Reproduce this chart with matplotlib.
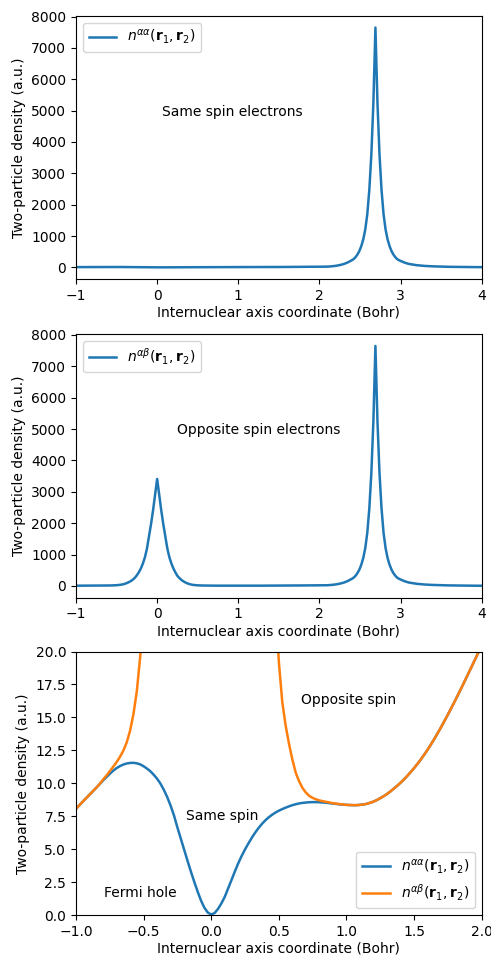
import matplotlib
matplotlib.use("Agg")
import matplotlib.pyplot as plt

# Internuclear axis grid (Bohr)
x_bohr = [-1.0, -0.975, -0.95, -0.925, -0.9, -0.875, -0.85, -0.825, -0.8, -0.775,
          -0.75, -0.725, -0.7, -0.675, -0.65, -0.625, -0.6, -0.575, -0.55, -0.525,
          -0.5, -0.475, -0.45, -0.425, -0.4, -0.375, -0.35, -0.325, -0.3, -0.275,
          -0.25, -0.225, -0.2, -0.175, -0.15, -0.125, -0.1, -0.075, -0.05, -0.025,
          0.0, 0.025, 0.05, 0.075, 0.1, 0.125, 0.15, 0.175, 0.2, 0.225,
          0.25, 0.275, 0.3, 0.325, 0.35, 0.375, 0.4, 0.425, 0.45, 0.475,
          0.5, 0.525, 0.55, 0.575, 0.6, 0.625, 0.65, 0.675, 0.7, 0.725,
          0.75, 0.775, 0.8, 0.825, 0.85, 0.875, 0.9, 0.925, 0.95, 0.975,
          1.0, 1.025, 1.05, 1.075, 1.1, 1.125, 1.15, 1.175, 1.2, 1.225,
          1.25, 1.275, 1.3, 1.325, 1.35, 1.375, 1.4, 1.425, 1.45, 1.475,
          1.5, 1.525, 1.55, 1.575, 1.6, 1.625, 1.65, 1.675, 1.7, 1.725,
          1.75, 1.775, 1.8, 1.825, 1.85, 1.875, 1.9, 1.925, 1.95, 1.975,
          2.0, 2.025, 2.05, 2.075, 2.1,
          2.15, 2.2, 2.25, 2.3, 2.35,
          2.415, 2.44, 2.465, 2.49, 2.515, 2.54, 2.565, 2.59, 2.615, 2.64, 2.665,
          2.69,
          2.715, 2.74, 2.765, 2.79, 2.815, 2.84, 2.865, 2.89, 2.915, 2.94, 2.965,
          3.0, 3.05, 3.1, 3.2, 3.3, 3.4, 3.5, 3.6, 3.7, 3.8, 3.9, 4.0]

# Same-spin pair density n^{aa}
n_same = [8.07, 8.35, 8.62, 8.88, 9.13, 9.4, 9.67, 9.95, 10.22, 10.48,
          10.73, 10.96, 11.16, 11.31, 11.43, 11.51, 11.55, 11.56, 11.52, 11.44,
          11.3, 11.12, 10.92, 10.65, 10.35, 9.97, 9.5, 8.95, 8.3, 7.55,
          6.65, 5.8, 4.95, 4.12, 3.3, 2.52, 1.78, 1.1, 0.56, 0.2,
          0.06, 0.17, 0.48, 0.9, 1.4, 2.03, 2.68, 3.33, 3.95, 4.5,
          5.0, 5.45, 5.88, 6.27, 6.62, 6.93, 7.2, 7.43, 7.62, 7.79,
          7.93, 8.05, 8.16, 8.26, 8.35, 8.42, 8.48, 8.52, 8.55, 8.57,
          8.58, 8.58, 8.57, 8.55, 8.53, 8.5, 8.47, 8.44, 8.41, 8.39,
          8.37, 8.36, 8.35, 8.35, 8.37, 8.4, 8.45, 8.53, 8.62, 8.74,
          8.88, 9.03, 9.2, 9.39, 9.6, 9.82, 10.05, 10.3, 10.57, 10.86,
          11.16, 11.48, 11.82, 12.18, 12.56, 12.96, 13.38, 13.82, 14.27, 14.74,
          15.22, 15.71, 16.21, 16.72, 17.24, 17.77, 18.3, 18.84, 19.38, 19.92,
          20.46, 21.0, 21.6, 22.3, 23.1,
          33, 48, 72, 106, 158,
          250, 310, 395, 510, 670, 890, 1210, 1700, 2480, 3610, 5260,
          7650,
          5260, 3610, 2480, 1700, 1210, 890, 670, 510, 395, 310, 250,
          205, 150, 110, 68, 45, 32, 23, 17, 13, 10, 8, 6.5]

# Opposite-spin pair density n^{ab}
n_opp = [8.07, 8.35, 8.62, 8.88, 9.13, 9.4, 9.67, 9.96, 10.29, 10.59,
         10.92, 11.26, 11.61, 12.01, 12.48, 13.11, 14.0, 15.26, 17.02, 19.64,
         23.5, 29, 38, 50, 66, 90, 120, 155, 200, 260,
         340, 440, 560, 720, 920, 1200, 1580, 1980, 2420, 2920,
         3410, 2920, 2420, 1980, 1580, 1200, 920, 720, 560, 430,
         320, 250, 190, 145, 108, 80, 58, 42, 31, 24,
         19.2, 16.2, 14.4, 13.0, 11.8, 10.8, 10.15, 9.65, 9.3, 9.05,
         8.9, 8.79, 8.71, 8.65, 8.6, 8.55, 8.5, 8.46, 8.43, 8.4,
         8.37, 8.36, 8.35, 8.35, 8.37, 8.4, 8.45, 8.53, 8.62, 8.74,
         8.88, 9.03, 9.2, 9.39, 9.6, 9.82, 10.05, 10.3, 10.57, 10.86,
         11.16, 11.48, 11.82, 12.18, 12.56, 12.96, 13.38, 13.82, 14.27, 14.74,
         15.22, 15.71, 16.21, 16.72, 17.24, 17.77, 18.3, 18.84, 19.38, 19.92,
         20.46, 21.0, 21.6, 22.3, 23.1,
         33, 48, 72, 106, 158,
         250, 310, 395, 510, 670, 890, 1210, 1700, 2480, 3610, 5260,
         7650,
         5260, 3610, 2480, 1700, 1210, 890, 670, 510, 395, 310, 250,
         205, 150, 110, 68, 45, 32, 23, 17, 13, 10, 8, 6.5]

assert len(x_bohr) == len(n_same) == len(n_opp), (len(x_bohr), len(n_same), len(n_opp))

lab_same = r'$n^{\alpha\alpha}(\mathbf{r}_1,\mathbf{r}_2)$'
lab_opp = r'$n^{\alpha\beta}(\mathbf{r}_1,\mathbf{r}_2)$'
xlabel = 'Internuclear axis coordinate (Bohr)'
ylabel = 'Two-particle density (a.u.)'

fig = plt.figure(figsize=(4.91, 9.55), dpi=100)
L, W, H = 0.1548, 0.8263, 0.2762
ax1 = fig.add_axes([L, 0.7075, W, H])
ax2 = fig.add_axes([L, 0.3741, W, H])
ax3 = fig.add_axes([L, 0.0416, W, H])

LW = 1.8
ax1.plot(x_bohr, n_same, color='C0', lw=LW, label=lab_same)
ax1.set_xlim(-1, 4)
ax1.legend(loc='upper left')
ax1.text(0.06, 4830, 'Same spin electrons')

ax2.plot(x_bohr, n_opp, color='C0', lw=LW, label=lab_opp)
ax2.set_xlim(-1, 4)
ax2.legend(loc='upper left')
ax2.text(0.25, 4850, 'Opposite spin electrons')

ax3.plot(x_bohr, n_same, color='C0', lw=LW, label=lab_same)
ax3.plot(x_bohr, n_opp, color='C1', lw=LW, label=lab_opp)
ax3.set_xlim(-1, 2)
ax3.set_ylim(0, 20)
ax3.legend(loc='lower right')
ax3.text(0.66, 16.0, 'Opposite spin')
ax3.text(-0.19, 7.25, 'Same spin')
ax3.text(-0.79, 1.4, 'Fermi hole')

for ax in (ax1, ax2, ax3):
    ax.set_xlabel(xlabel, labelpad=2)
    ax.set_ylabel(ylabel)

fig.savefig('out.png', dpi=100)
